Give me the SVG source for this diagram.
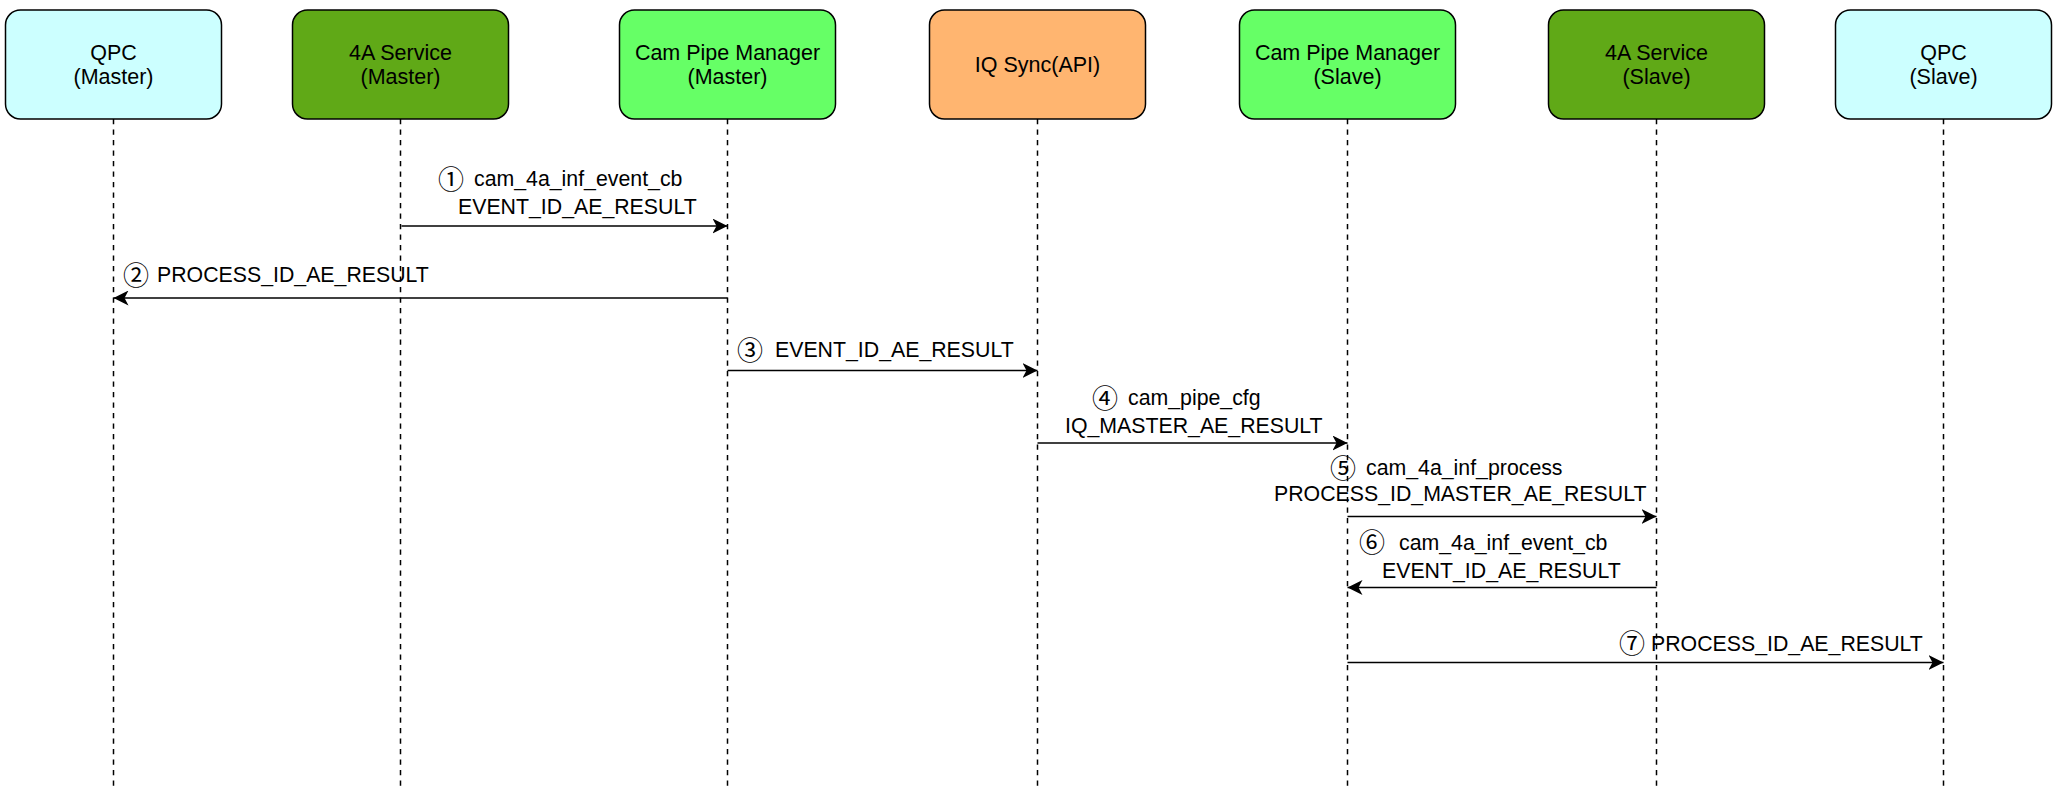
<svg xmlns="http://www.w3.org/2000/svg" width="2059" height="791" viewBox="0 0 2059 791">
  <style>
    .box { stroke: #000000; stroke-width: 1.5; }
    .qpc { fill: #CCFFFF; }
    .svc { fill: #60A917; }
    .cpm { fill: #66FF66; }
    .iq { fill: #FFB570; }
    .life { stroke: #000000; stroke-width: 1.5; stroke-dasharray: 5.25 5.25; fill: none; }
    .msg { stroke: #000000; stroke-width: 1.6; fill: none; marker-end: url(#arrow); }
    .t { font-family: "Liberation Sans", Arial, sans-serif; font-size: 21.5px; fill: #000000; text-anchor: middle; }
    .lbl { font-family: "Liberation Sans", Arial, sans-serif; font-size: 21.3px; fill: #000000; }
    .num { font-family: "Noto Sans CJK SC", "DejaVu Sans", sans-serif; font-size: 26px; font-weight: normal; }
  </style>
  <defs>
    <marker id="arrow" viewBox="0 0 15 15" refX="15" refY="7.5" markerWidth="15" markerHeight="15" markerUnits="userSpaceOnUse" orient="auto">
      <path d="M0,0 L15,7.5 L0,15 L4,7.5 Z" fill="#000000"/>
    </marker>
  </defs>

  <rect width="2059" height="791" fill="#FFFFFF"/>

  <g id="qpc-master">
    <line class="life" x1="113.5" y1="119" x2="113.5" y2="791"/>
    <rect class="box qpc" x="5.5" y="10" width="216" height="109" rx="15" ry="15"/>
    <text class="t" x="113.5" y="59.5">QPC</text>
    <text class="t" x="113.5" y="84">(Master)</text>
  </g>

  <g id="svc-master">
    <line class="life" x1="400.5" y1="119" x2="400.5" y2="791"/>
    <rect class="box svc" x="292.5" y="10" width="216" height="109" rx="15" ry="15"/>
    <text class="t" x="400.5" y="59.5">4A Service</text>
    <text class="t" x="400.5" y="84">(Master)</text>
  </g>

  <g id="cpm-master">
    <line class="life" x1="727.5" y1="119" x2="727.5" y2="791"/>
    <rect class="box cpm" x="619.5" y="10" width="216" height="109" rx="15" ry="15"/>
    <text class="t" x="727.5" y="59.5">Cam Pipe Manager</text>
    <text class="t" x="727.5" y="84">(Master)</text>
  </g>

  <g id="iq-sync">
    <line class="life" x1="1037.5" y1="119" x2="1037.5" y2="791"/>
    <rect class="box iq" x="929.5" y="10" width="216" height="109" rx="15" ry="15"/>
    <text class="t" x="1037.5" y="72">IQ Sync(API)</text>
  </g>

  <g id="cpm-slave">
    <line class="life" x1="1347.5" y1="119" x2="1347.5" y2="791"/>
    <rect class="box cpm" x="1239.5" y="10" width="216" height="109" rx="15" ry="15"/>
    <text class="t" x="1347.5" y="59.5">Cam Pipe Manager</text>
    <text class="t" x="1347.5" y="84">(Slave)</text>
  </g>

  <g id="svc-slave">
    <line class="life" x1="1656.5" y1="119" x2="1656.5" y2="791"/>
    <rect class="box svc" x="1548.5" y="10" width="216" height="109" rx="15" ry="15"/>
    <text class="t" x="1656.5" y="59.5">4A Service</text>
    <text class="t" x="1656.5" y="84">(Slave)</text>
  </g>

  <g id="qpc-slave">
    <line class="life" x1="1943.5" y1="119" x2="1943.5" y2="791"/>
    <rect class="box qpc" x="1835.5" y="10" width="216" height="109" rx="15" ry="15"/>
    <text class="t" x="1943.5" y="59.5">QPC</text>
    <text class="t" x="1943.5" y="84">(Slave)</text>
  </g>

  <g id="connectors">
    <line class="msg" x1="401.5" y1="226" x2="727.5" y2="226"/>
    <text class="lbl"><tspan class="num" x="438" y="188.5">①</tspan><tspan x="474" y="186">cam_4a_inf_event_cb</tspan></text>
    <text class="lbl" x="458" y="213.5">EVENT_ID_AE_RESULT</text>

    <line class="msg" x1="727.5" y1="298" x2="113.5" y2="298"/>
    <text class="lbl"><tspan class="num" x="123" y="284.5">②</tspan><tspan x="157" y="282">PROCESS_ID_AE_RESULT</tspan></text>

    <line class="msg" x1="727.5" y1="370.5" x2="1037.5" y2="370.5"/>
    <text class="lbl"><tspan class="num" x="737" y="359.5">③</tspan><tspan x="775" y="357">EVENT_ID_AE_RESULT</tspan></text>

    <line class="msg" x1="1037.5" y1="443" x2="1347.5" y2="443"/>
    <text class="lbl"><tspan class="num" x="1092" y="407.5">④</tspan><tspan x="1128" y="405">cam_pipe_cfg</tspan></text>
    <text class="lbl" x="1065" y="432.5">IQ_MASTER_AE_RESULT</text>

    <line class="msg" x1="1347.5" y1="516.5" x2="1656.5" y2="516.5"/>
    <text class="lbl"><tspan class="num" x="1330" y="477.5">⑤</tspan><tspan x="1366" y="475">cam_4a_inf_process</tspan></text>
    <text class="lbl" x="1274" y="501">PROCESS_ID_MASTER_AE_RESULT</text>

    <line class="msg" x1="1656.5" y1="587.5" x2="1347.5" y2="587.5"/>
    <text class="lbl"><tspan class="num" x="1359" y="552">⑥</tspan><tspan x="1399" y="549.5">cam_4a_inf_event_cb</tspan></text>
    <text class="lbl" x="1382" y="577.5">EVENT_ID_AE_RESULT</text>

    <line class="msg" x1="1347.5" y1="662.5" x2="1943.5" y2="662.5"/>
    <text class="lbl"><tspan class="num" x="1619" y="653">⑦</tspan><tspan x="1651" y="650.5">PROCESS_ID_AE_RESULT</tspan></text>
  </g>
</svg>
